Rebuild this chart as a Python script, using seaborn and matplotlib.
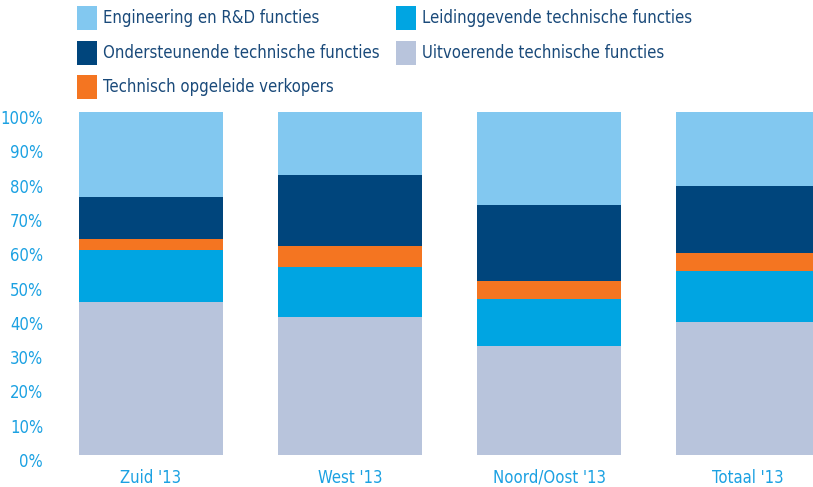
import numpy as np
import pandas as pd
import seaborn as sns
import matplotlib.transforms as mtransforms
from matplotlib import pyplot as plt
from matplotlib.patches import Patch

regions = ["Zuid '13", "West '13", "Noord/Oost '13", "Totaal '13"]

# stacked from bottom to top (percent)
uitvoerende = [44.6, 40.2, 31.8, 38.8]
leidinggevende = [15.2, 14.6, 13.7, 14.8]
verkopers = [3.2, 6.1, 5.2, 5.3]
ondersteunende = [12.2, 20.7, 22.2, 19.5]
engineering = [24.8, 18.4, 27.1, 21.6]

series = [
    ("Uitvoerende technische functies", uitvoerende, "#b8c4dc"),
    ("Leidinggevende technische functies", leidinggevende, "#00a5e2"),
    ("Technisch opgeleide verkopers", verkopers, "#f47521"),
    ("Ondersteunende technische functies", ondersteunende, "#00457c"),
    ("Engineering en R&D functies", engineering, "#82c8f0"),
]

sns.set_theme(style="white")
plt.rcParams['font.family'] = ['DejaVu Sans']
plt.rcParams['font.stretch'] = 'condensed'

tick_color = "#1ba1e2"
text_color = "#1a4a7a"

W, H, dpi = 813, 487, 100
fig = plt.figure(figsize=(W / dpi, H / dpi), dpi=dpi)

# axes: left edge at 51.5px, bars 199px apart, plot clipped at right figure edge
left_px, bottom_px, top_px = 51.5, 455, 112
ax = fig.add_axes([left_px / W, (H - bottom_px) / H, (W - left_px) / W, (bottom_px - top_px) / H])

bottom = np.zeros(len(regions))
for name, vals, col in series:
    sns.barplot(x=regions, y=vals, bottom=bottom, color=col, saturation=1,
                width=0.724, ax=ax, label=name, edgecolor="none", linewidth=0)
    bottom += np.array(vals)

spacing_px = 199
ax.set_xlim(-0.5, (W - left_px) / spacing_px - 0.5)
ax.set_ylim(0, 100)
ax.set_yticks(range(0, 101, 10))
ax.set_yticklabels([f"{v}%" for v in range(0, 101, 10)])
ax.set_xlabel("")
ax.set_ylabel("")
for s in ax.spines.values():
    s.set_visible(False)
ax.tick_params(axis="both", length=0, colors=tick_color, labelsize=12)
ax.tick_params(axis="y", pad=6)
ax.tick_params(axis="x", pad=10)
ax.grid(False)

# labels sit a few px lower than the bar scale in the reference
offset = mtransforms.ScaledTranslation(0, -5 / dpi, fig.dpi_scale_trans)
for lbl in ax.get_yticklabels():
    lbl.set_transform(lbl.get_transform() + offset)

if ax.get_legend() is not None:
    ax.get_legend().remove()

order = ["Engineering en R&D functies", "Ondersteunende technische functies",
         "Technisch opgeleide verkopers", "Leidinggevende technische functies",
         "Uitvoerende technische functies"]
colors = {name: col for name, _, col in series}
handles = [Patch(facecolor=colors[n], edgecolor="none", label=n) for n in order]
fs = 12
fs_px = fs * dpi / 72
# legend box height = fs*(0.65*hh + 0.245); want 24 px squares
hh = (24 / fs_px - 0.245) / 0.65
leg = fig.legend(handles=handles, ncol=2, loc="upper left",
                 bbox_to_anchor=(77 / W, 1 - 6 / H), frameon=False,
                 fontsize=fs, borderpad=0, borderaxespad=0,
                 handlelength=20 / fs_px, handleheight=hh,
                 handletextpad=6 / fs_px, labelspacing=10.5 / fs_px,
                 columnspacing=16 / fs_px)
for t in leg.get_texts():
    t.set_color(text_color)

fig.savefig("out.png", dpi=dpi)
